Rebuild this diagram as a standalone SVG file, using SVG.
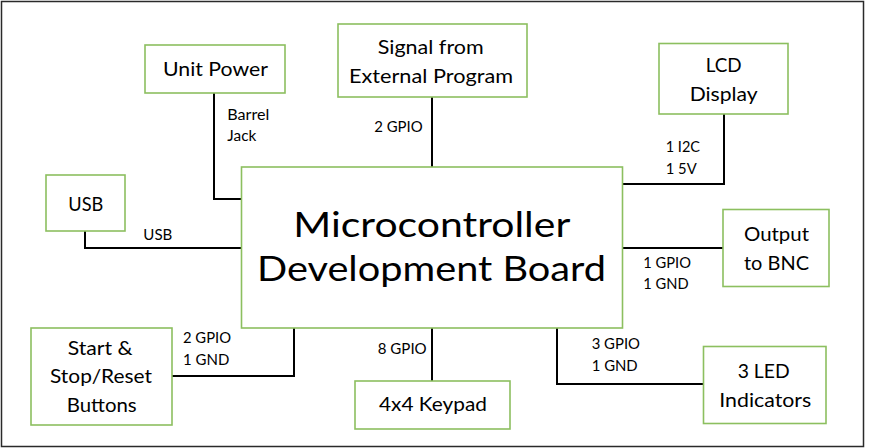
<svg xmlns="http://www.w3.org/2000/svg" width="880" height="448" viewBox="0 0 880 448">
<style>
.box{fill:#ffffff;stroke:#8cbf5f;stroke-width:1.6}
.t{font-family:Lato,"Open Sans",sans-serif;font-size:19px;fill:#000}
.big{font-family:Lato,"Open Sans",sans-serif;font-size:35px;fill:#000}
.s{font-family:Lato,"Open Sans",sans-serif;font-size:14.5px;fill:#000}
.c{fill:none;stroke:#000;stroke-width:2}
</style>
<rect x="1.5" y="1.5" width="862" height="445" fill="#fff" stroke="#2a2a2a" stroke-width="1.5"/>
<g id="connectors">
<path class="c" d="M214,93 V199 H241"/>
<path class="c" d="M432,97 V167"/>
<path class="c" d="M724,114 V184 H623"/>
<path class="c" d="M85,231 V248 H241"/>
<path class="c" d="M623,248 H723"/>
<path class="c" d="M172,376 H294 V328"/>
<path class="c" d="M432,328 V381"/>
<path class="c" d="M557,328 V384 H703"/>
<text class="s" x="227.3" y="120" textLength="42" lengthAdjust="spacingAndGlyphs">Barrel</text>
<text class="s" x="227.3" y="140.7" textLength="29" lengthAdjust="spacingAndGlyphs">Jack</text>
<text class="s" x="374.2" y="132.3" textLength="48.5" lengthAdjust="spacingAndGlyphs">2 GPIO</text>
<text class="s" x="143.3" y="239.7" textLength="29" lengthAdjust="spacingAndGlyphs">USB</text>
<text class="s" x="665.7" y="152.3" textLength="34.3" lengthAdjust="spacingAndGlyphs">1 I2C</text>
<text class="s" x="665.7" y="174.3" textLength="31" lengthAdjust="spacingAndGlyphs">1 5V</text>
<text class="s" x="643.3" y="267.7" textLength="47.7" lengthAdjust="spacingAndGlyphs">1 GPIO</text>
<text class="s" x="643.3" y="289.3" textLength="45.3" lengthAdjust="spacingAndGlyphs">1 GND</text>
<text class="s" x="183" y="343.3" textLength="48" lengthAdjust="spacingAndGlyphs">2 GPIO</text>
<text class="s" x="183" y="365.3" textLength="46.3" lengthAdjust="spacingAndGlyphs">1 GND</text>
<text class="s" x="377.7" y="353.7" textLength="49" lengthAdjust="spacingAndGlyphs">8 GPIO</text>
<text class="s" x="591.7" y="349.3" textLength="48.3" lengthAdjust="spacingAndGlyphs">3 GPIO</text>
<text class="s" x="591.7" y="371" textLength="46" lengthAdjust="spacingAndGlyphs">1 GND</text>
</g>
<g id="mcu">
<rect class="box" x="241.5" y="167" width="381" height="161"/>
<text class="big" x="293.3" y="236.7" textLength="277" lengthAdjust="spacingAndGlyphs">Microcontroller</text>
<text class="big" x="257" y="280.7" textLength="349" lengthAdjust="spacingAndGlyphs">Development Board</text>
</g>
<g id="unit-power">
<rect class="box" x="145" y="45" width="140" height="48"/>
<text class="t" x="163" y="76" textLength="105" lengthAdjust="spacingAndGlyphs">Unit Power</text>
</g>
<g id="signal">
<rect class="box" x="338" y="24" width="189" height="73"/>
<text class="t" x="377.7" y="54.3" textLength="106" lengthAdjust="spacingAndGlyphs">Signal from</text>
<text class="t" x="349" y="82.7" textLength="164" lengthAdjust="spacingAndGlyphs">External Program</text>
</g>
<g id="lcd">
<rect class="box" x="659" y="43.5" width="129" height="70.5"/>
<text class="t" x="705.7" y="72.3" textLength="36" lengthAdjust="spacingAndGlyphs">LCD</text>
<text class="t" x="689.7" y="100.5" textLength="68" lengthAdjust="spacingAndGlyphs">Display</text>
</g>
<g id="usb">
<rect class="box" x="46" y="175" width="79" height="56"/>
<text class="t" x="68.3" y="210.7" textLength="35" lengthAdjust="spacingAndGlyphs">USB</text>
</g>
<g id="bnc">
<rect class="box" x="723" y="209.5" width="106" height="77"/>
<text class="t" x="744" y="241.3" textLength="65" lengthAdjust="spacingAndGlyphs">Output</text>
<text class="t" x="744" y="270" textLength="65" lengthAdjust="spacingAndGlyphs">to BNC</text>
</g>
<g id="buttons">
<rect class="box" x="31" y="328" width="141" height="97"/>
<text class="t" x="67.7" y="354.7" textLength="65" lengthAdjust="spacingAndGlyphs">Start &amp;</text>
<text class="t" x="50" y="383.3" textLength="102" lengthAdjust="spacingAndGlyphs">Stop/Reset</text>
<text class="t" x="66.7" y="411.7" textLength="70" lengthAdjust="spacingAndGlyphs">Buttons</text>
</g>
<g id="keypad">
<rect class="box" x="355" y="381" width="155" height="48"/>
<text class="t" x="379" y="411.3" textLength="108" lengthAdjust="spacingAndGlyphs">4x4 Keypad</text>
</g>
<g id="leds">
<rect class="box" x="703.5" y="346.5" width="122.5" height="77"/>
<text class="t" x="737.7" y="378" textLength="52" lengthAdjust="spacingAndGlyphs">3 LED</text>
<text class="t" x="719.3" y="407.3" textLength="92" lengthAdjust="spacingAndGlyphs">Indicators</text>
</g>
</svg>
